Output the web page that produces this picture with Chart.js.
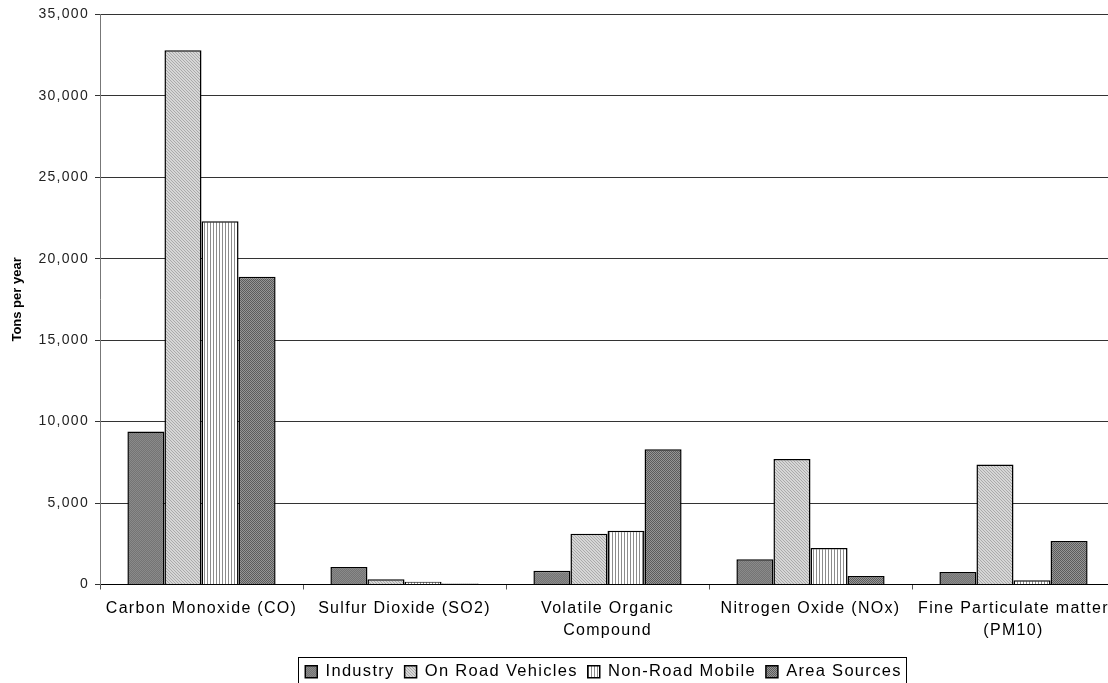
<!DOCTYPE html>
<html>
<head>
<meta charset="utf-8">
<script src="https://cdn.jsdelivr.net/npm/chart.js@4"></script>
<style>
  html, body { margin: 0; padding: 0; background: #fff; overflow: hidden; }
  #wrap { width: 1120px; height: 683px; }
</style>
</head>
<body>
<div id="wrap"><canvas id="emissionChart"></canvas></div>
<script>
// data
const categories = [
  'Carbon Monoxide (CO)',
  'Sulfur Dioxide (SO2)',
  ['Volatile Organic', 'Compound'],
  'Nitrogen Oxide (NOx)',
  ['Fine Particulate matter', '(PM10)']
];
const seriesNames = ['Industry', 'On Road Vehicles', 'Non-Road Mobile', 'Area Sources'];
const industry = [9400, 1070, 850, 1550, 770];
const onRoad = [32800, 320, 3110, 7700, 7370];
const nonRoad = [22300, 170, 3300, 2240, 260];
const areaSources = [18900, 60, 8310, 520, 2670];
const yTicks = [0, 5000, 10000, 15000, 20000, 25000, 30000, 35000];

// small fill patterns like the old spreadsheet chart
function makePattern(size, draw) {
    const c = document.createElement('canvas');
    c.width = c.height = size;
    const g = c.getContext('2d');
    draw(g, size);
    return g.createPattern(c, 'repeat');
}
const patIndustry = makePattern(2, (g) => {
    g.fillStyle = '#747474'; g.fillRect(0, 0, 2, 2);
    g.fillStyle = '#8a8a8a'; g.fillRect(0, 0, 1, 1); g.fillRect(1, 1, 1, 1);
});
const patOnRoad = makePattern(3, (g) => {
    g.fillStyle = '#d6d6d6'; g.fillRect(0, 0, 3, 3);
    g.fillStyle = '#aaaaaa';
    for (let i = 0; i < 3; i++) g.fillRect(i, i, 1, 1);
});
const patNonRoad = makePattern(3, (g) => {
    g.fillStyle = '#ffffff'; g.fillRect(0, 0, 3, 3);
    g.fillStyle = '#8c8c8c'; g.fillRect(0, 0, 1, 3);
});
const patArea = makePattern(2, (g) => {
    g.fillStyle = '#5c5c5c'; g.fillRect(0, 0, 2, 2);
    g.fillStyle = '#969696'; g.fillRect(1, 0, 1, 1); g.fillRect(0, 1, 1, 1);
});

Chart.defaults.font.family = '"Liberation Sans", Arial, sans-serif';
Chart.defaults.color = '#111';

// wider letter spacing, the original text looks stretched (not for the axis title)
const spacing = {
    id: 'spacing',
    beforeUpdate(chart) { chart.ctx.letterSpacing = '1.3px'; },
    beforeDraw(chart) {
        chart.ctx.letterSpacing = '1.3px';
        const s = chart.scales.y;
        if (s && !s._plainTitle) {
            const orig = s.drawTitle.bind(s);
            s.drawTitle = function () {
                const c = this.ctx;
                const prev = c.letterSpacing;
                c.letterSpacing = '0px';
                orig();
                c.letterSpacing = prev;
            };
            s._plainTitle = true;
        }
    }
};

// put the legend under the plot centre and draw a box round it
const legendBox = {
    id: 'legendBox',
    afterLayout(chart) {
        const lg = chart.legend;
        const area = chart.chartArea;
        const d = (lg.left + lg.right) / 2 - (area.left + area.right) / 2 + 4;
        lg.left -= d;
        lg.right -= d;
        lg.top += 7;
        lg.bottom += 7;
    },
    afterDraw(chart) {
        const boxes = chart.legend.legendHitBoxes;
        if (!boxes || !boxes.length) return;
        const first = boxes[0], last = boxes[boxes.length - 1];
        const ctx = chart.ctx;
        ctx.save();
        ctx.strokeStyle = '#000';
        ctx.lineWidth = 1;
        ctx.strokeRect(Math.round(first.left - 7) + 0.5, Math.round(first.top - 6.5) + 0.5,
            Math.round(last.left + last.width - first.left + 12), 60);
        ctx.restore();
    }
};

const ctx = document.getElementById('emissionChart').getContext('2d');
const barBase = { borderColor: '#000', borderWidth: 1.5, barPercentage: 1, categoryPercentage: 0.73 };
const emissionChart = new Chart(ctx, {
    type: 'bar',
    data: {
        labels: categories,
        datasets: [
            { ...barBase, label: seriesNames[0], data: industry, backgroundColor: patIndustry },
            { ...barBase, label: seriesNames[1], data: onRoad, backgroundColor: patOnRoad },
            { ...barBase, label: seriesNames[2], data: nonRoad, backgroundColor: patNonRoad },
            { ...barBase, label: seriesNames[3], data: areaSources, backgroundColor: patArea }
        ]
    },
    options: {
        responsive: true,
        maintainAspectRatio: false,
        animation: false,
        layout: { padding: { top: 14, right: 5, left: 0, bottom: 0 } },
        plugins: {
            tooltip: { enabled: false },
            legend: {
                position: 'bottom',
                labels: {
                    boxWidth: 12,
                    boxHeight: 12,
                    padding: 10,
                    color: '#000',
                    font: { size: 16.5 }
                }
            }
        },
        scales: {
            x: {
                grid: { drawOnChartArea: false, tickLength: 5, color: '#555' },
                border: { color: '#000' },
                ticks: { padding: 8, maxRotation: 0, autoSkip: false, color: '#000', font: { size: 16, lineHeight: 1.375 } },
                afterFit(scale) { scale.height = 62; }
            },
            y: {
                min: 0,
                max: 35000,
                afterBuildTicks(scale) { scale.ticks = yTicks.map(v => ({ value: v })); },
                grid: { color: '#333', tickLength: 5 },
                border: { color: '#777' },
                ticks: {
                    padding: 6,
                    font: { size: 14 },
                    color: '#222',
                    callback: v => v.toLocaleString('en-US')
                },
                title: {
                    display: true,
                    text: 'Tons per year',
                    color: '#000',
                    font: { size: 13, weight: 'bold' },
                    padding: { top: 10, bottom: 0 }
                },
                afterFit(scale) { scale.width = 100; }
            }
        }
    },
    plugins: [spacing, legendBox]
});
</script>
</body>
</html>
